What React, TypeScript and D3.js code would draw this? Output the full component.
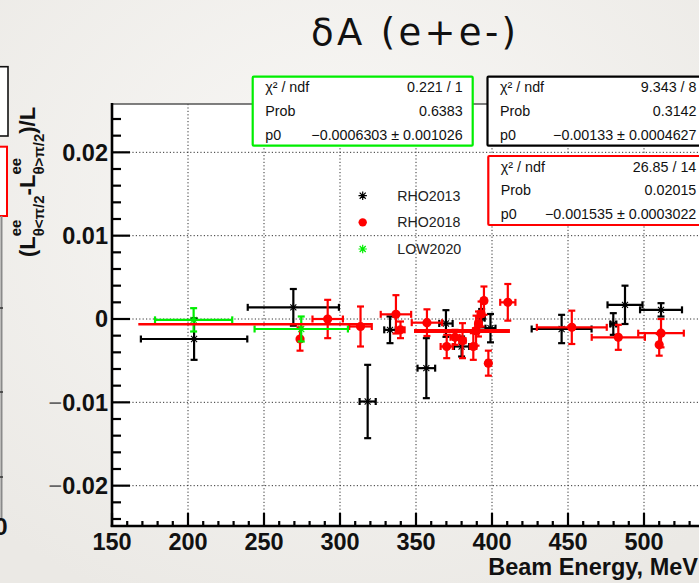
import React from 'react';
import * as d3 from 'd3';

const W = 699;
const H = 583;

// ---------- data ----------
const rho2013E = [204, 269.3, 318.2, 332.9, 356.8, 369.7, 380, 393.2, 399, 445.8, 479.8, 487.5, 511.2];
const rho2013V = [-0.0024, 0.0014, -0.0099, -0.0013, -0.0059, -0.00054, -0.0033, 0.0001, -0.0011, -0.0012, -0.0006, 0.0017, 0.0011];
const rho2013Ex = [35, 30, 5.3, 3.8, 5.8, 4.4, 5, 2, 3.3, 19.7, 2, 11.5, 13.8];
const rho2013Ey = [0.0025, 0.0022, 0.0044, 0.0016, 0.0036, 0.0016, 0.0012, 0.0011, 0.0017, 0.0017, 0.0013, 0.0023, 0.0008];

const rho2018E = [273.7, 291.9, 313.5, 336.8, 339.8, 357.2, 370.2, 375.7, 380.6, 387.7, 389.5, 391.1, 392.8, 394.7, 397.6, 410.4, 452.5, 483.1, 511.2, 510];
const rho2018V = [-0.0024, 0.0, -0.0009, 0.00056, -0.0013, -0.00044, -0.0033, -0.0022, -0.0026, -0.0033, -0.0014, -0.0006, 0.0006, 0.0022, -0.0053, 0.002, -0.001, -0.0022, -0.0017, -0.0031];
const rho2018Ex = [0, 10, 7.4, 10, 2.7, 10, 4, 3, 2, 2, 2, 2, 2, 1.5, 1.5, 5, 23, 17.5, 15, 0];
const rho2018Ey = [0.0014, 0.0023, 0.0024, 0.0023, 0.001, 0.0016, 0.0014, 0.0009, 0.0021, 0.0016, 0.0018, 0.0015, 0.0015, 0.0017, 0.0015, 0.0022, 0.002, 0.0015, 0.0017, 0.0013];

const low2020E = [203.7, 274.5];
const low2020V = [-0.0001, -0.0012];
const low2020Ex = [25.4, 30.7];
const low2020Ey = [0.0014, 0.0015];

// constant fits: [p0, Emin, Emax]
const fitRho2013 = [-0.00133, 348.7, 411.8];
const fitRho2018 = [-0.001535, 348.7, 411.8];
const fitLow2020 = [-0.0006303, 167.3, 320.8];

const xMajorTicks = [150, 200, 250, 300, 350, 400, 450, 500, 550];
const xTickLabels = ['150', '200', '250', '300', '350', '400', '450', '500'];
const yMajorTicks = [-0.02, -0.01, 0, 0.01, 0.02];
const yTickLabels = ['−0.02', '−0.01', '0', '0.01', '0.02'];

const legendNames = ['RHO2013', 'RHO2018', 'LOW2020'];

const statLabels = ['χ² / ndf', 'Prob', 'p0'];
const statGreenValues = ['0.221 / 1', '0.6383', '−0.0006303 ± 0.001026'];
const statBlackValues = ['9.343 / 8', '0.3142', '−0.00133 ± 0.0004627'];
const statRedValues = ['26.85 / 14', '0.02015', '−0.001535 ± 0.0003022'];

const FONT = "'Liberation Sans', Arial, Helvetica, sans-serif";

let _ctx: CanvasRenderingContext2D | null = null;
function measure(text: string, font: string): number {
  if (!_ctx) _ctx = document.createElement('canvas').getContext('2d');
  if (!_ctx) return text.length * 10;
  _ctx.font = font;
  return _ctx.measureText(text).width;
}

function starPath(cx: number, cy: number, r: number) {
  const d = r * 0.72;
  return `M${cx - r},${cy}H${cx + r}M${cx},${cy - r}V${cy + r}M${cx - d},${cy - d}L${cx + d},${cy + d}M${cx - d},${cy + d}L${cx + d},${cy - d}`;
}

type SeriesProps = {
  E: number[]; V: number[]; Ex: number[]; Ey: number[];
  color: string; marker: 'star' | 'circle';
  x: d3.ScaleLinear<number, number>; y: d3.ScaleLinear<number, number>;
};

function Series({ E, V, Ex, Ey, color, marker, x, y }: SeriesProps) {
  const c = 3.5;
  return (
    <g>
      {E.map((e, i) => {
        const cx = x(e), cy = y(V[i]);
        const x0 = x(e - Ex[i]), x1 = x(e + Ex[i]);
        const y0 = y(V[i] - Ey[i]), y1 = y(V[i] + Ey[i]);
        return (
          <g key={i} stroke={color} strokeWidth={2.2} fill="none">
            {Ex[i] > 0 && (
              <g>
                <line x1={x0} x2={x1} y1={cy} y2={cy} />
                <line x1={x0} x2={x0} y1={cy - c} y2={cy + c} />
                <line x1={x1} x2={x1} y1={cy - c} y2={cy + c} />
              </g>
            )}
            {Ey[i] > 0 && (
              <g>
                <line x1={cx} x2={cx} y1={y0} y2={y1} />
                <line x1={cx - c} x2={cx + c} y1={y0} y2={y0} />
                <line x1={cx - c} x2={cx + c} y1={y1} y2={y1} />
              </g>
            )}
            {marker === 'circle' ? (
              <circle cx={cx} cy={cy} r={4.6} fill={color} stroke="none" />
            ) : (
              <path d={starPath(cx, cy, 4.2)} strokeWidth={1.1} />
            )}
          </g>
        );
      })}
    </g>
  );
}

function StatBox({ x0, y0, w, color, labels, values }: { x0: number; y0: number; w: number; color: string; labels: string[]; values: string[] }) {
  const rows = [15.5, 39.3, 63];
  return (
    <g>
      <rect x={x0} y={y0} width={w} height={69} fill="#fff" stroke={color} strokeWidth={2.2} rx={1} />
      {labels.map((l, i) => (
        <text key={'l' + i} x={x0 + 12.5} y={y0 + rows[i]} fontFamily={FONT} fontSize={14.3} fill="#111">{l}</text>
      ))}
      {values.map((v, i) => (
        <text key={'v' + i} x={x0 + w - 10} y={y0 + rows[i]} fontFamily={FONT} fontSize={14.3} fill="#111" textAnchor="end">{v}</text>
      ))}
    </g>
  );
}

export default function App() {
  const left = 112, top = 104, bottom = 526;
  const x = d3.scaleLinear().domain([150, 560]).range([left, left + 410 * 1.52]);
  const y = d3.scaleLinear().domain([-0.02484, 0.0258]).range([bottom, top]);
  const right = x(560);

  const xMinor = d3.range(150, 561, 10);
  const yMinor = d3.range(-24, 25, 2).map((v) => v / 1000);

  // y-axis title layout
  const mainF = `bold 22px ${FONT}`;
  const subF = `bold 15px ${FONT}`;
  const w1 = measure('(L', mainF);
  const s1 = Math.max(measure('ee', subF), measure('θ<π/2', subF));
  const x2 = w1 + s1;
  const w2 = measure('-L', mainF);
  const s2 = Math.max(measure('ee', subF), measure('θ>π/2', subF));
  const x3 = x2 + w2 + s2;

  const fits = [fitLow2020, fitRho2013, fitRho2018];

  return (
    <svg width={W} height={H} style={{ position: 'absolute', left: 0, top: 0, display: 'block' }}>
      <defs>
        <radialGradient id="bg" cx="50%" cy="35%" r="75%">
          <stop offset="0%" stopColor="#f9f8f6" />
          <stop offset="100%" stopColor="#ebe9e5" />
        </radialGradient>
      </defs>
      <rect x={0} y={0} width={W} height={H} fill="url(#bg)" />

      {/* left neighbouring plot fragments */}
      <rect x={-4} y={66.7} width={12} height={69.3} fill="#fff" stroke="#111" strokeWidth={1.6} />
      <rect x={-4} y={146.7} width={11} height={69.3} fill="#fff" stroke="#f00" strokeWidth={2} />
      <line x1={1.5} x2={1.5} y1={216} y2={518} stroke="#8a8a8a" strokeWidth={2} />
      {[308, 392, 477].map((v, i) => (
        <line key={i} x1={0} x2={3} y1={v} y2={v} stroke="#333" strokeWidth={1.5} />
      ))}
      <text x={7.5} y={535} fontFamily={FONT} fontWeight="bold" fontSize={24} textAnchor="end" fill="#111">0</text>

      {/* y title */}
      <g transform="translate(35,257) rotate(-90)" fontFamily={FONT} fontWeight="bold" fill="#111">
        <text x={0} y={0} fontSize={22}>(L</text>
        <text x={w1} y={-14} fontSize={15}>ee</text>
        <text x={w1} y={9} fontSize={15}>θ&lt;π/2</text>
        <text x={x2} y={0} fontSize={22}>-L</text>
        <text x={x2 + w2} y={-14} fontSize={15}>ee</text>
        <text x={x2 + w2} y={9} fontSize={15}>θ&gt;π/2</text>
        <text x={x3} y={0} fontSize={22}>)/L</text>
      </g>

      {/* title */}
      <text x={311} y={45} fontFamily="'DejaVu Sans', sans-serif" fontSize={37} fill="#111" textLength={205} lengthAdjust="spacing">δA  (e+e-)</text>

      {/* plot area */}
      <rect x={left} y={top} width={right - left} height={bottom - top} fill="#fff" />

      {/* grid */}
      <g stroke="#333" strokeWidth={1} strokeDasharray="1.2,2.2">
        {xMajorTicks.filter((t) => t > 150).map((t) => (
          <line key={'gx' + t} x1={x(t)} x2={x(t)} y1={top} y2={bottom} />
        ))}
        {yMajorTicks.map((t) => (
          <line key={'gy' + t} x1={left} x2={right} y1={y(t)} y2={y(t)} />
        ))}
      </g>

      {/* frame top */}
      <line x1={left} x2={right} y1={top} y2={top} stroke="#555" strokeWidth={1.3} />

      {/* axes */}
      <g stroke="#000" strokeWidth={2.2}>
        {yMinor.map((t) => {
          const major = yMajorTicks.some((m) => Math.abs(m - t) < 1e-9);
          return <line key={'ty' + t} x1={left} x2={left + (major ? 18 : 9)} y1={y(t)} y2={y(t)} />;
        })}
        {xMinor.map((t) => {
          const major = t % 50 === 0;
          return <line key={'tx' + t} x1={x(t)} x2={x(t)} y1={bottom} y2={bottom - (major ? 13 : 5)} />;
        })}
        <line x1={left} x2={left} y1={top - 1} y2={bottom + 1.1} strokeWidth={2.6} />
        <line x1={left - 1.3} x2={right} y1={bottom} y2={bottom} strokeWidth={2.6} />
      </g>

      {/* tick labels */}
      {yMajorTicks.map((t, i) => {
        const lab = yTickLabels[i];
        const neg = lab.startsWith('−');
        return (
          <text key={'yl' + t} x={108} y={y(t) + 8.3} fontFamily={FONT} fontWeight="bold" fontSize={23.5} textAnchor="end" fill="#111">
            {neg && <tspan fontWeight="normal" fill="#666">−</tspan>}
            {neg ? lab.slice(1) : lab}
          </text>
        );
      })}
      {xTickLabels.map((lab, i) => (
        <text key={'xl' + lab} x={x(xMajorTicks[i])} y={550} fontFamily={FONT} fontWeight="bold" fontSize={23.5} textAnchor="middle" fill="#111">{lab}</text>
      ))}
      <text x={698} y={575} fontFamily={FONT} fontWeight="bold" fontSize={23.5} textAnchor="end" fill="#111">Beam Energy, MeV</text>

      {/* data */}
      <Series E={rho2013E} V={rho2013V} Ex={rho2013Ex} Ey={rho2013Ey} color="#000" marker="star" x={x} y={y} />
      <Series E={rho2018E} V={rho2018V} Ex={rho2018Ex} Ey={rho2018Ey} color="#ff0000" marker="circle" x={x} y={y} />
      <Series E={low2020E} V={low2020V} Ex={low2020Ex} Ey={low2020Ey} color="#00ee00" marker="star" x={x} y={y} />

      {/* constant fits */}
      {fits.map((f, i) => (
        <line key={'f' + i} x1={x(f[1])} x2={x(f[2])} y1={y(f[0])} y2={y(f[0])} stroke="#ff0000" strokeWidth={2.4} />
      ))}

      {/* stat boxes */}
      <StatBox x0={252.7} y0={76.7} w={220} color="#00ee00" labels={statLabels} values={statGreenValues} />
      <StatBox x0={487.5} y0={76.7} w={219} color="#000" labels={statLabels} values={statBlackValues} />
      <StatBox x0={488.3} y0={156} w={218} color="#ff0000" labels={statLabels} values={statRedValues} />

      {/* legend */}
      {legendNames.map((n, i) => {
        const ly = 195.7 + i * 26.65;
        const col = ['#000', '#ff0000', '#00ee00'][i];
        return (
          <g key={n}>
            {i === 1 ? (
              <circle cx={362.7} cy={ly} r={4.2} fill={col} />
            ) : (
              <path d={starPath(362.7, ly, 4.2)} stroke={col} strokeWidth={1.2} fill="none" />
            )}
            <text x={397.3} y={ly + 5} fontFamily={FONT} fontSize={14.2} fill="#222">{n}</text>
          </g>
        );
      })}
    </svg>
  );
}
